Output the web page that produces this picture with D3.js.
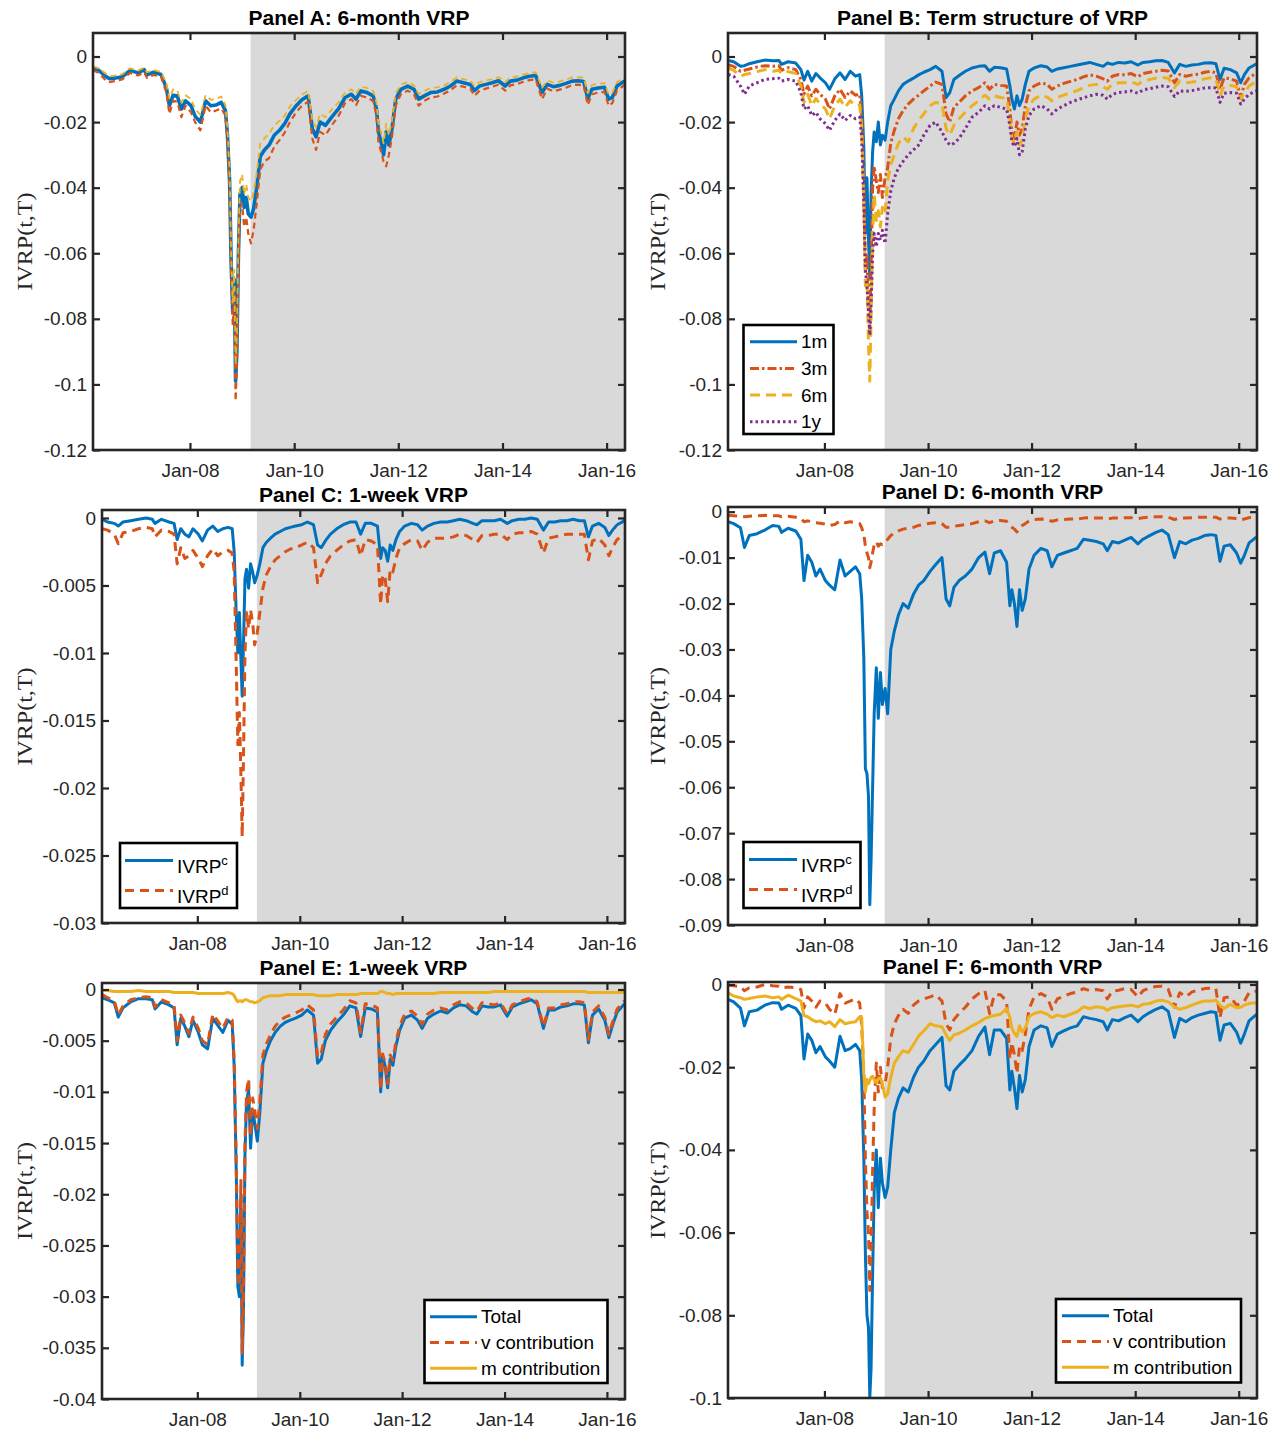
<!DOCTYPE html>
<html><head><meta charset="utf-8">
<script src="https://cdn.jsdelivr.net/npm/d3@7"></script>
<style>body{margin:0;background:#fff}</style>
</head><body>
<svg id="chart" width="1282" height="1431" xmlns="http://www.w3.org/2000/svg"></svg>
<script>
// ---------------- DATA ----------------
const dates = [
"2006-02-21","2006-04-01","2006-05-19","2006-06-16","2006-07-20","2006-09-13","2006-11-07",
"2007-01-01","2007-02-14","2007-03-05","2007-04-20","2007-06-13","2007-07-19","2007-08-10","2007-09-05","2007-10-04","2007-11-02","2007-12-01",
"2008-01-08","2008-02-06","2008-03-14","2008-04-20","2008-05-26","2008-07-01","2008-08-07","2008-09-06","2008-09-20","2008-10-05","2008-10-16","2008-10-27","2008-11-07","2008-11-16","2008-11-25","2008-12-06","2008-12-17",
"2009-01-01","2009-01-15","2009-01-30","2009-02-13","2009-03-04","2009-03-22","2009-04-13","2009-05-08","2009-06-06","2009-07-09","2009-08-14","2009-09-20","2009-10-26","2009-12-02",
"2010-01-15","2010-02-24","2010-04-09","2010-05-08","2010-06-03","2010-07-02","2010-08-08","2010-09-21","2010-11-07","2010-12-24",
"2011-02-06","2011-03-11","2011-04-13","2011-05-27","2011-07-09","2011-08-01","2011-08-15","2011-09-02","2011-09-20","2011-10-08","2011-10-27","2011-11-18","2011-12-14",
"2012-01-19","2012-03-07","2012-04-20","2012-05-23","2012-07-01","2012-08-15","2012-10-01","2012-11-18",
"2013-01-01","2013-02-14","2013-04-02","2013-05-20","2013-06-18","2013-07-24","2013-09-06","2013-10-20","2013-12-03",
"2014-01-20","2014-02-25","2014-04-13","2014-05-27","2014-07-09","2014-08-22","2014-10-05","2014-11-11","2014-12-24",
"2015-02-06","2015-03-22","2015-05-05","2015-06-18","2015-07-24","2015-08-22","2015-09-20","2015-11-03","2015-12-17",
"2016-01-15","2016-02-10","2016-03-14","2016-05-06"];

const xDomain = ["2006-02-20","2016-05-09"];
const shadeStart = "2009-03-01";
const xTickDates = ["2008-01-01","2010-01-01","2012-01-01","2014-01-01","2016-01-01"];
const xTickLabels = ["Jan-08","Jan-10","Jan-12","Jan-14","Jan-16"];

// Panel A: 6-month VRP (three estimates)
const aBlue = [-0.0035,-0.0042,-0.0060,-0.0068,-0.0066,-0.0062,-0.0042,
-0.0050,-0.0040,-0.0056,-0.0048,-0.0055,-0.0095,-0.0150,-0.0118,-0.0120,-0.0160,-0.0135,
-0.0150,-0.0182,-0.0200,-0.0135,-0.0150,-0.0148,-0.0140,-0.0165,-0.0240,-0.0380,-0.0630,-0.0780,-0.0680,-0.0990,-0.0900,-0.0600,-0.0420,
-0.0400,-0.0460,-0.0430,-0.0480,-0.0490,-0.0465,-0.0400,-0.0305,-0.0285,-0.0270,-0.0240,-0.0225,-0.0205,-0.0175,
-0.0150,-0.0132,-0.0120,-0.0220,-0.0245,-0.0200,-0.0210,-0.0185,-0.0160,-0.0125,
-0.0115,-0.0130,-0.0105,-0.0110,-0.0120,-0.0160,-0.0230,-0.0260,-0.0300,-0.0230,-0.0270,-0.0220,-0.0130,
-0.0100,-0.0090,-0.0100,-0.0130,-0.0120,-0.0110,-0.0108,-0.0100,
-0.0090,-0.0075,-0.0080,-0.0085,-0.0104,-0.0090,-0.0085,-0.0080,-0.0074,
-0.0090,-0.0075,-0.0072,-0.0065,-0.0060,-0.0058,-0.0110,-0.0085,-0.0092,
-0.0088,-0.0082,-0.0075,-0.0074,-0.0076,-0.0128,-0.0100,-0.0096,-0.0094,
-0.0130,-0.0125,-0.0090,-0.0075];
const aOrange = [-0.0042,-0.0050,-0.0072,-0.0078,-0.0075,-0.0070,-0.0050,
-0.0058,-0.0048,-0.0065,-0.0056,-0.0062,-0.0110,-0.0175,-0.0135,-0.0138,-0.0185,-0.0150,
-0.0170,-0.0200,-0.0225,-0.0150,-0.0170,-0.0165,-0.0158,-0.0180,-0.0260,-0.0410,-0.0660,-0.0820,-0.0720,-0.1050,-0.0950,-0.0640,-0.0460,
-0.0450,-0.0520,-0.0490,-0.0540,-0.0570,-0.0530,-0.0450,-0.0345,-0.0320,-0.0310,-0.0275,-0.0255,-0.0232,-0.0200,
-0.0170,-0.0150,-0.0138,-0.0250,-0.0285,-0.0230,-0.0240,-0.0210,-0.0182,-0.0142,
-0.0130,-0.0148,-0.0120,-0.0125,-0.0136,-0.0180,-0.0260,-0.0290,-0.0320,-0.0335,-0.0300,-0.0245,-0.0150,
-0.0115,-0.0104,-0.0115,-0.0150,-0.0135,-0.0125,-0.0122,-0.0113,
-0.0103,-0.0088,-0.0092,-0.0098,-0.0120,-0.0104,-0.0098,-0.0092,-0.0086,
-0.0104,-0.0088,-0.0084,-0.0077,-0.0072,-0.0070,-0.0130,-0.0098,-0.0106,
-0.0101,-0.0095,-0.0087,-0.0086,-0.0088,-0.0148,-0.0115,-0.0110,-0.0108,
-0.0150,-0.0142,-0.0104,-0.0087];
const aYellow = [-0.0030,-0.0036,-0.0052,-0.0060,-0.0058,-0.0054,-0.0036,
-0.0043,-0.0034,-0.0048,-0.0041,-0.0047,-0.0080,-0.0128,-0.0100,-0.0104,-0.0140,-0.0118,
-0.0130,-0.0160,-0.0178,-0.0118,-0.0132,-0.0130,-0.0122,-0.0148,-0.0220,-0.0350,-0.0600,-0.0750,-0.0650,-0.0940,-0.0860,-0.0560,-0.0380,
-0.0360,-0.0420,-0.0390,-0.0430,-0.0440,-0.0415,-0.0355,-0.0265,-0.0250,-0.0235,-0.0210,-0.0196,-0.0180,-0.0152,
-0.0132,-0.0116,-0.0105,-0.0195,-0.0215,-0.0175,-0.0185,-0.0162,-0.0140,-0.0110,
-0.0100,-0.0114,-0.0092,-0.0096,-0.0105,-0.0140,-0.0205,-0.0230,-0.0265,-0.0205,-0.0240,-0.0195,-0.0112,
-0.0086,-0.0078,-0.0088,-0.0114,-0.0105,-0.0096,-0.0094,-0.0088,
-0.0078,-0.0064,-0.0069,-0.0073,-0.0090,-0.0078,-0.0073,-0.0069,-0.0063,
-0.0078,-0.0064,-0.0061,-0.0055,-0.0050,-0.0048,-0.0095,-0.0073,-0.0080,
-0.0076,-0.0070,-0.0064,-0.0063,-0.0065,-0.0112,-0.0087,-0.0083,-0.0081,
-0.0115,-0.0110,-0.0078,-0.0064];

// Panel B: term structure
const b1m = [-0.0012,-0.0016,-0.0030,-0.0028,-0.0022,-0.0016,-0.0011,
-0.0013,-0.0012,-0.0024,-0.0016,-0.0020,-0.0040,-0.0072,-0.0045,-0.0075,-0.0052,-0.0065,
-0.0080,-0.0100,-0.0068,-0.0050,-0.0070,-0.0045,-0.0060,-0.0055,-0.0120,-0.0280,-0.0540,-0.0370,-0.0560,-0.0676,-0.0420,-0.0290,-0.0230,
-0.0260,-0.0200,-0.0270,-0.0240,-0.0255,-0.0200,-0.0150,-0.0130,-0.0105,-0.0085,-0.0075,-0.0066,-0.0056,-0.0048,
-0.0040,-0.0030,-0.0045,-0.0125,-0.0110,-0.0070,-0.0058,-0.0045,-0.0035,-0.0030,
-0.0028,-0.0045,-0.0033,-0.0034,-0.0038,-0.0090,-0.0130,-0.0160,-0.0120,-0.0150,-0.0130,-0.0085,-0.0045,
-0.0035,-0.0028,-0.0032,-0.0045,-0.0038,-0.0034,-0.0030,-0.0026,
-0.0022,-0.0018,-0.0024,-0.0030,-0.0020,-0.0024,-0.0018,-0.0020,-0.0016,
-0.0026,-0.0018,-0.0016,-0.0013,-0.0012,-0.0018,-0.0050,-0.0024,-0.0030,
-0.0026,-0.0024,-0.0020,-0.0019,-0.0022,-0.0070,-0.0036,-0.0040,-0.0050,
-0.0080,-0.0055,-0.0035,-0.0022];
const b3m = [-0.0025,-0.0030,-0.0045,-0.0042,-0.0038,-0.0032,-0.0028,
-0.0030,-0.0028,-0.0042,-0.0034,-0.0040,-0.0070,-0.0115,-0.0090,-0.0120,-0.0100,-0.0115,
-0.0130,-0.0160,-0.0120,-0.0100,-0.0125,-0.0105,-0.0118,-0.0115,-0.0180,-0.0400,-0.0650,-0.0600,-0.0780,-0.0840,-0.0650,-0.0400,-0.0335,
-0.0380,-0.0415,-0.0360,-0.0430,-0.0370,-0.0340,-0.0264,-0.0225,-0.0190,-0.0165,-0.0145,-0.0130,-0.0118,-0.0105,
-0.0090,-0.0078,-0.0085,-0.0175,-0.0200,-0.0155,-0.0140,-0.0120,-0.0105,-0.0095,
-0.0080,-0.0100,-0.0085,-0.0088,-0.0090,-0.0160,-0.0230,-0.0250,-0.0200,-0.0240,-0.0220,-0.0150,-0.0105,
-0.0090,-0.0080,-0.0085,-0.0100,-0.0090,-0.0082,-0.0076,-0.0070,
-0.0062,-0.0056,-0.0060,-0.0068,-0.0075,-0.0060,-0.0055,-0.0056,-0.0052,
-0.0062,-0.0052,-0.0048,-0.0045,-0.0042,-0.0044,-0.0080,-0.0055,-0.0060,
-0.0056,-0.0054,-0.0048,-0.0045,-0.0050,-0.0100,-0.0065,-0.0068,-0.0075,
-0.0125,-0.0085,-0.0065,-0.0050];
const b6m = [-0.0035,-0.0042,-0.0060,-0.0055,-0.0052,-0.0046,-0.0040,
-0.0045,-0.0042,-0.0052,-0.0046,-0.0052,-0.0090,-0.0140,-0.0115,-0.0150,-0.0128,-0.0145,
-0.0160,-0.0190,-0.0150,-0.0130,-0.0155,-0.0135,-0.0150,-0.0148,-0.0220,-0.0450,-0.0700,-0.0680,-0.0880,-0.0990,-0.0800,-0.0550,-0.0420,
-0.0500,-0.0470,-0.0520,-0.0460,-0.0480,-0.0380,-0.0330,-0.0300,-0.0265,-0.0245,-0.0260,-0.0220,-0.0195,-0.0175,
-0.0150,-0.0140,-0.0145,-0.0220,-0.0240,-0.0210,-0.0190,-0.0170,-0.0150,-0.0135,
-0.0118,-0.0130,-0.0120,-0.0125,-0.0128,-0.0190,-0.0250,-0.0265,-0.0230,-0.0270,-0.0255,-0.0190,-0.0150,
-0.0130,-0.0118,-0.0124,-0.0135,-0.0125,-0.0118,-0.0110,-0.0104,
-0.0095,-0.0088,-0.0085,-0.0092,-0.0100,-0.0085,-0.0080,-0.0080,-0.0077,
-0.0085,-0.0075,-0.0070,-0.0066,-0.0064,-0.0066,-0.0095,-0.0075,-0.0080,
-0.0078,-0.0075,-0.0068,-0.0065,-0.0068,-0.0120,-0.0090,-0.0088,-0.0092,
-0.0130,-0.0110,-0.0090,-0.0075];
const b1y = [-0.0055,-0.0060,-0.0090,-0.0115,-0.0090,-0.0080,-0.0070,
-0.0068,-0.0066,-0.0075,-0.0070,-0.0075,-0.0110,-0.0160,-0.0150,-0.0180,-0.0170,-0.0190,
-0.0205,-0.0225,-0.0195,-0.0175,-0.0195,-0.0180,-0.0190,-0.0185,-0.0250,-0.0450,-0.0650,-0.0700,-0.0780,-0.0850,-0.0760,-0.0600,-0.0540,
-0.0580,-0.0540,-0.0560,-0.0530,-0.0570,-0.0480,-0.0410,-0.0370,-0.0340,-0.0320,-0.0300,-0.0285,-0.0270,-0.0240,
-0.0210,-0.0200,-0.0230,-0.0255,-0.0270,-0.0265,-0.0250,-0.0220,-0.0185,-0.0170,
-0.0150,-0.0160,-0.0150,-0.0155,-0.0160,-0.0210,-0.0260,-0.0275,-0.0250,-0.0300,-0.0290,-0.0220,-0.0180,
-0.0160,-0.0150,-0.0160,-0.0175,-0.0160,-0.0150,-0.0140,-0.0132,
-0.0126,-0.0120,-0.0115,-0.0118,-0.0130,-0.0115,-0.0110,-0.0108,-0.0105,
-0.0112,-0.0102,-0.0098,-0.0094,-0.0090,-0.0092,-0.0122,-0.0105,-0.0106,
-0.0104,-0.0100,-0.0096,-0.0095,-0.0096,-0.0140,-0.0112,-0.0110,-0.0112,
-0.0145,-0.0130,-0.0115,-0.0105];

// Panel C: 1-week VRP, continuous / discontinuous
const cC = [-0.0001,-0.0003,-0.0004,-0.0006,-0.0003,-0.0002,-0.0001,
0.0000,-0.0001,-0.0004,-0.0001,-0.0003,-0.0004,-0.0016,-0.0008,-0.0012,-0.0014,-0.0008,
-0.0012,-0.0017,-0.0009,-0.0006,-0.0010,-0.0008,-0.0007,-0.0008,-0.0025,-0.0072,-0.0100,-0.0070,-0.0105,-0.0132,-0.0095,-0.0045,-0.0038,
-0.0052,-0.0034,-0.0040,-0.0048,-0.0042,-0.0034,-0.0022,-0.0018,-0.0015,-0.0012,-0.0010,-0.0008,-0.0007,-0.0006,
-0.0005,-0.0003,-0.0005,-0.0020,-0.0022,-0.0017,-0.0012,-0.0008,-0.0005,-0.0003,
-0.0003,-0.0012,-0.0004,-0.0004,-0.0006,-0.0030,-0.0022,-0.0024,-0.0032,-0.0020,-0.0024,-0.0016,-0.0010,
-0.0006,-0.0004,-0.0005,-0.0009,-0.0006,-0.0004,-0.0003,-0.0003,
-0.0002,-0.0001,-0.0002,-0.0004,-0.0005,-0.0002,-0.0002,-0.0002,-0.0001,
-0.0004,-0.0002,-0.0001,-0.0001,0.0000,-0.0001,-0.0009,-0.0003,-0.0003,
-0.0002,-0.0002,-0.0001,-0.0002,-0.0002,-0.0014,-0.0006,-0.0004,-0.0007,
-0.0013,-0.0009,-0.0005,-0.0002];
const cD = [-0.0008,-0.0009,-0.0012,-0.0019,-0.0011,-0.0010,-0.0008,
-0.0007,-0.0008,-0.0014,-0.0009,-0.0010,-0.0012,-0.0034,-0.0022,-0.0030,-0.0028,-0.0024,
-0.0030,-0.0036,-0.0028,-0.0023,-0.0028,-0.0025,-0.0024,-0.0026,-0.0040,-0.0110,-0.0168,-0.0144,-0.0190,-0.0236,-0.0180,-0.0100,-0.0070,
-0.0082,-0.0068,-0.0078,-0.0094,-0.0085,-0.0070,-0.0052,-0.0042,-0.0036,-0.0031,-0.0028,-0.0025,-0.0023,-0.0022,
-0.0020,-0.0018,-0.0022,-0.0048,-0.0042,-0.0034,-0.0028,-0.0024,-0.0020,-0.0017,
-0.0016,-0.0028,-0.0016,-0.0017,-0.0020,-0.0064,-0.0042,-0.0045,-0.0062,-0.0038,-0.0040,-0.0030,-0.0022,
-0.0019,-0.0016,-0.0017,-0.0024,-0.0018,-0.0015,-0.0015,-0.0015,
-0.0014,-0.0012,-0.0013,-0.0016,-0.0018,-0.0013,-0.0013,-0.0012,-0.0012,
-0.0016,-0.0012,-0.0011,-0.0011,-0.0010,-0.0012,-0.0026,-0.0015,-0.0014,
-0.0013,-0.0012,-0.0012,-0.0012,-0.0012,-0.0031,-0.0017,-0.0015,-0.0020,
-0.0028,-0.0022,-0.0016,-0.0012];

// Panel D: 6-month VRP, continuous / discontinuous
const dC = [-0.0022,-0.0026,-0.0035,-0.0078,-0.0052,-0.0048,-0.0040,
-0.0030,-0.0032,-0.0045,-0.0036,-0.0042,-0.0060,-0.0150,-0.0095,-0.0110,-0.0140,-0.0125,
-0.0150,-0.0160,-0.0170,-0.0105,-0.0140,-0.0130,-0.0120,-0.0135,-0.0190,-0.0320,-0.0560,-0.0570,-0.0620,-0.0856,-0.0760,-0.0600,-0.0440,
-0.0340,-0.0450,-0.0350,-0.0420,-0.0385,-0.0440,-0.0300,-0.0260,-0.0225,-0.0200,-0.0210,-0.0180,-0.0160,-0.0150,
-0.0130,-0.0115,-0.0100,-0.0190,-0.0205,-0.0165,-0.0150,-0.0140,-0.0125,-0.0100,
-0.0088,-0.0135,-0.0090,-0.0085,-0.0110,-0.0205,-0.0170,-0.0200,-0.0250,-0.0170,-0.0215,-0.0190,-0.0125,
-0.0095,-0.0080,-0.0085,-0.0120,-0.0095,-0.0090,-0.0085,-0.0080,
-0.0060,-0.0062,-0.0065,-0.0070,-0.0085,-0.0065,-0.0068,-0.0062,-0.0056,
-0.0070,-0.0060,-0.0052,-0.0045,-0.0040,-0.0050,-0.0100,-0.0065,-0.0070,
-0.0062,-0.0058,-0.0052,-0.0050,-0.0052,-0.0108,-0.0075,-0.0072,-0.0090,
-0.0112,-0.0095,-0.0068,-0.0055];
const dD = [-0.0008,-0.0009,-0.0010,-0.0011,-0.0010,-0.0009,-0.0008,
-0.0009,-0.0009,-0.0011,-0.0010,-0.0012,-0.0015,-0.0022,-0.0020,-0.0022,-0.0024,-0.0025,
-0.0027,-0.0030,-0.0028,-0.0020,-0.0024,-0.0022,-0.0024,-0.0026,-0.0035,-0.0050,-0.0075,-0.0090,-0.0100,-0.0122,-0.0110,-0.0090,-0.0072,
-0.0065,-0.0075,-0.0070,-0.0072,-0.0068,-0.0060,-0.0052,-0.0046,-0.0042,-0.0038,-0.0036,-0.0034,-0.0030,-0.0028,
-0.0025,-0.0024,-0.0026,-0.0034,-0.0034,-0.0032,-0.0030,-0.0028,-0.0026,-0.0022,
-0.0020,-0.0024,-0.0020,-0.0019,-0.0021,-0.0030,-0.0034,-0.0038,-0.0044,-0.0035,-0.0030,-0.0026,-0.0020,
-0.0017,-0.0016,-0.0017,-0.0021,-0.0018,-0.0017,-0.0016,-0.0016,
-0.0014,-0.0013,-0.0014,-0.0014,-0.0016,-0.0014,-0.0014,-0.0013,-0.0013,
-0.0015,-0.0013,-0.0012,-0.0011,-0.0011,-0.0012,-0.0017,-0.0014,-0.0014,
-0.0013,-0.0012,-0.0012,-0.0012,-0.0012,-0.0016,-0.0014,-0.0014,-0.0015,
-0.0018,-0.0016,-0.0013,-0.0010];

// Panel E: 1-week VRP decomposition
const eTotal = [-0.0008,-0.0010,-0.0013,-0.0027,-0.0018,-0.0012,-0.0009,
-0.0009,-0.0010,-0.0019,-0.0012,-0.0015,-0.0018,-0.0054,-0.0028,-0.0036,-0.0046,-0.0030,
-0.0042,-0.0054,-0.0058,-0.0028,-0.0035,-0.0042,-0.0030,-0.0034,-0.0075,-0.0180,-0.0290,-0.0300,-0.0200,-0.0367,-0.0315,-0.0160,-0.0110,
-0.0098,-0.0155,-0.0118,-0.0130,-0.0148,-0.0120,-0.0072,-0.0060,-0.0050,-0.0042,-0.0036,-0.0032,-0.0030,-0.0028,
-0.0025,-0.0020,-0.0025,-0.0072,-0.0068,-0.0050,-0.0040,-0.0032,-0.0025,-0.0016,
-0.0018,-0.0046,-0.0018,-0.0019,-0.0022,-0.0100,-0.0065,-0.0075,-0.0096,-0.0068,-0.0074,-0.0055,-0.0040,
-0.0028,-0.0025,-0.0030,-0.0038,-0.0028,-0.0024,-0.0021,-0.0023,
-0.0018,-0.0015,-0.0016,-0.0022,-0.0024,-0.0016,-0.0017,-0.0017,-0.0015,
-0.0026,-0.0017,-0.0014,-0.0012,-0.0010,-0.0014,-0.0038,-0.0020,-0.0020,
-0.0017,-0.0016,-0.0014,-0.0014,-0.0015,-0.0052,-0.0025,-0.0019,-0.0030,
-0.0047,-0.0035,-0.0022,-0.0014];
const eV = [-0.0005,-0.0008,-0.0011,-0.0025,-0.0016,-0.0010,-0.0008,
-0.0007,-0.0008,-0.0017,-0.0010,-0.0013,-0.0015,-0.0050,-0.0025,-0.0033,-0.0043,-0.0027,
-0.0038,-0.0050,-0.0054,-0.0024,-0.0031,-0.0038,-0.0027,-0.0030,-0.0069,-0.0170,-0.0278,-0.0290,-0.0185,-0.0355,-0.0304,-0.0150,-0.0100,
-0.0087,-0.0143,-0.0106,-0.0117,-0.0136,-0.0109,-0.0064,-0.0053,-0.0044,-0.0036,-0.0030,-0.0027,-0.0025,-0.0023,
-0.0020,-0.0015,-0.0020,-0.0066,-0.0062,-0.0044,-0.0034,-0.0027,-0.0020,-0.0011,
-0.0013,-0.0042,-0.0014,-0.0015,-0.0018,-0.0098,-0.0063,-0.0072,-0.0092,-0.0064,-0.0069,-0.0051,-0.0036,
-0.0024,-0.0021,-0.0026,-0.0034,-0.0024,-0.0020,-0.0018,-0.0020,
-0.0015,-0.0012,-0.0013,-0.0019,-0.0021,-0.0013,-0.0014,-0.0015,-0.0013,
-0.0024,-0.0015,-0.0012,-0.0010,-0.0008,-0.0012,-0.0036,-0.0018,-0.0018,
-0.0015,-0.0014,-0.0012,-0.0012,-0.0013,-0.0049,-0.0022,-0.0016,-0.0027,
-0.0044,-0.0032,-0.0019,-0.0011];
const eM = [-0.0001,-0.0001,-0.0002,-0.0002,-0.0002,-0.0002,-0.0001,
-0.0002,-0.0002,-0.0002,-0.0002,-0.0002,-0.0003,-0.0003,-0.0003,-0.0003,-0.0003,-0.0003,
-0.0004,-0.0004,-0.0004,-0.0004,-0.0004,-0.0004,-0.0003,-0.0004,-0.0006,-0.0010,-0.0012,-0.0011,-0.0011,-0.0012,-0.0011,-0.0010,-0.0010,
-0.0011,-0.0012,-0.0012,-0.0013,-0.0012,-0.0011,-0.0008,-0.0007,-0.0006,-0.0006,-0.0006,-0.0005,-0.0005,-0.0005,
-0.0005,-0.0005,-0.0005,-0.0006,-0.0006,-0.0006,-0.0006,-0.0005,-0.0005,-0.0005,
-0.0005,-0.0004,-0.0004,-0.0004,-0.0004,-0.0002,-0.0002,-0.0003,-0.0004,-0.0004,-0.0005,-0.0004,-0.0004,
-0.0004,-0.0004,-0.0004,-0.0004,-0.0004,-0.0004,-0.0003,-0.0003,
-0.0003,-0.0003,-0.0003,-0.0003,-0.0003,-0.0003,-0.0003,-0.0002,-0.0002,
-0.0002,-0.0002,-0.0002,-0.0002,-0.0002,-0.0002,-0.0002,-0.0002,-0.0002,
-0.0002,-0.0002,-0.0002,-0.0002,-0.0002,-0.0003,-0.0003,-0.0003,-0.0003,
-0.0003,-0.0003,-0.0003,-0.0003];

// Panel F: 6-month VRP decomposition
const fTotal = [-0.0036,-0.0042,-0.0057,-0.0100,-0.0066,-0.0062,-0.0050,
-0.0044,-0.0045,-0.0060,-0.0050,-0.0058,-0.0075,-0.0180,-0.0120,-0.0135,-0.0165,-0.0150,
-0.0175,-0.0185,-0.0200,-0.0125,-0.0160,-0.0155,-0.0145,-0.0160,-0.0230,-0.0420,-0.0650,-0.0800,-0.0830,-0.1000,-0.0930,-0.0700,-0.0500,
-0.0400,-0.0540,-0.0420,-0.0480,-0.0515,-0.0490,-0.0400,-0.0310,-0.0275,-0.0250,-0.0260,-0.0225,-0.0200,-0.0185,
-0.0160,-0.0145,-0.0128,-0.0245,-0.0255,-0.0210,-0.0195,-0.0180,-0.0160,-0.0125,
-0.0103,-0.0170,-0.0110,-0.0110,-0.0130,-0.0255,-0.0210,-0.0250,-0.0300,-0.0220,-0.0260,-0.0230,-0.0150,
-0.0110,-0.0100,-0.0105,-0.0150,-0.0120,-0.0112,-0.0105,-0.0100,
-0.0078,-0.0082,-0.0085,-0.0090,-0.0110,-0.0085,-0.0088,-0.0080,-0.0074,
-0.0090,-0.0078,-0.0068,-0.0060,-0.0054,-0.0065,-0.0128,-0.0082,-0.0090,
-0.0080,-0.0074,-0.0070,-0.0066,-0.0068,-0.0135,-0.0098,-0.0094,-0.0115,
-0.0142,-0.0120,-0.0088,-0.0072];
const fV = [-0.0002,-0.0003,-0.0005,-0.0015,-0.0008,-0.0006,0.0000,
-0.0003,-0.0004,-0.0008,-0.0006,-0.0008,-0.0012,-0.0057,-0.0030,-0.0040,-0.0055,-0.0040,
-0.0045,-0.0060,-0.0072,-0.0022,-0.0045,-0.0040,-0.0035,-0.0045,-0.0100,-0.0220,-0.0420,-0.0550,-0.0600,-0.0740,-0.0650,-0.0450,-0.0300,
-0.0190,-0.0260,-0.0200,-0.0250,-0.0240,-0.0200,-0.0130,-0.0095,-0.0075,-0.0060,-0.0070,-0.0050,-0.0040,-0.0035,
-0.0030,-0.0025,-0.0040,-0.0095,-0.0110,-0.0085,-0.0070,-0.0055,-0.0035,-0.0022,
-0.0015,-0.0070,-0.0025,-0.0025,-0.0040,-0.0180,-0.0140,-0.0170,-0.0215,-0.0150,-0.0160,-0.0120,-0.0060,
-0.0030,-0.0022,-0.0030,-0.0060,-0.0035,-0.0028,-0.0022,-0.0018,
-0.0010,-0.0015,-0.0012,-0.0015,-0.0035,-0.0016,-0.0014,-0.0010,-0.0012,
-0.0030,-0.0015,-0.0008,-0.0005,-0.0004,-0.0012,-0.0055,-0.0020,-0.0030,
-0.0018,-0.0014,-0.0010,-0.0009,-0.0010,-0.0080,-0.0032,-0.0030,-0.0050,
-0.0045,-0.0040,-0.0020,-0.0016];
const fM = [-0.0020,-0.0028,-0.0032,-0.0036,-0.0034,-0.0030,-0.0028,
-0.0032,-0.0030,-0.0036,-0.0026,-0.0034,-0.0040,-0.0075,-0.0078,-0.0085,-0.0090,-0.0088,
-0.0095,-0.0090,-0.0102,-0.0085,-0.0095,-0.0092,-0.0090,-0.0078,-0.0080,-0.0215,-0.0260,-0.0230,-0.0240,-0.0232,-0.0225,-0.0222,-0.0230,
-0.0238,-0.0228,-0.0225,-0.0240,-0.0272,-0.0265,-0.0225,-0.0190,-0.0175,-0.0160,-0.0165,-0.0145,-0.0125,-0.0112,
-0.0095,-0.0100,-0.0102,-0.0122,-0.0135,-0.0122,-0.0118,-0.0110,-0.0100,-0.0092,
-0.0082,-0.0078,-0.0075,-0.0072,-0.0058,-0.0080,-0.0105,-0.0118,-0.0126,-0.0100,-0.0115,-0.0105,-0.0078,
-0.0070,-0.0066,-0.0072,-0.0080,-0.0074,-0.0078,-0.0072,-0.0066,
-0.0054,-0.0058,-0.0054,-0.0056,-0.0062,-0.0056,-0.0054,-0.0052,-0.0050,
-0.0054,-0.0048,-0.0046,-0.0040,-0.0038,-0.0042,-0.0054,-0.0060,-0.0056,
-0.0050,-0.0044,-0.0040,-0.0040,-0.0038,-0.0050,-0.0058,-0.0048,-0.0056,
-0.0055,-0.0050,-0.0046,-0.0044];

// Tick values and labels
const yTicksAB = [0,-0.02,-0.04,-0.06,-0.08,-0.1,-0.12];
const yLabelsAB = ["0","-0.02","-0.04","-0.06","-0.08","-0.1","-0.12"];
const yTicksC = [0,-0.005,-0.01,-0.015,-0.02,-0.025,-0.03];
const yLabelsC = ["0","-0.005","-0.01","-0.015","-0.02","-0.025","-0.03"];
const yTicksD = [0,-0.01,-0.02,-0.03,-0.04,-0.05,-0.06,-0.07,-0.08,-0.09];
const yLabelsD = ["0","-0.01","-0.02","-0.03","-0.04","-0.05","-0.06","-0.07","-0.08","-0.09"];
const yTicksE = [0,-0.005,-0.01,-0.015,-0.02,-0.025,-0.03,-0.035,-0.04];
const yLabelsE = ["0","-0.005","-0.01","-0.015","-0.02","-0.025","-0.03","-0.035","-0.04"];
const yTicksF = [0,-0.02,-0.04,-0.06,-0.08,-0.1];
const yLabelsF = ["0","-0.02","-0.04","-0.06","-0.08","-0.1"];

const legendB = ["1m","3m","6m","1y"];
const legendCD = [["IVRP","c"],["IVRP","d"]];
const legendEF = ["Total","v contribution","m contribution"];
const titles = ["Panel A: 6-month VRP","Panel B: Term structure of VRP","Panel C: 1-week VRP","Panel D: 6-month VRP","Panel E: 1-week VRP","Panel F: 6-month VRP"];
const yAxisLabel = "IVRP(t,T)";

// ---------------- DRAWING ----------------
const BLUE="#0072BD", ORANGE="#D95319", YELLOW="#EDB120", PURPLE="#7E2F8E", AX="#262626";
const SANS = "'Liberation Sans', Arial, Helvetica, sans-serif";
const parse = d3.utcParse("%Y-%m-%d");
const X = dates.map(parse);
const svg = d3.select("#chart");

const panels = [
 {id:"A", title:titles[0], x0:93, x1:625, y0:33, y1:450, yd:[-0.12,0.00717], yt:yTicksAB, yl:yLabelsAB, lx:24,
  series:[{v:aBlue,c:BLUE,w:3.6},{v:aOrange,c:ORANGE,w:2.2,dash:"6,4"},{v:aYellow,c:YELLOW,w:1.8,dash:"6,4"}]},
 {id:"B", title:titles[1], x0:728, x1:1257, y0:33, y1:450, yd:[-0.12,0.00717], yt:yTicksAB, yl:yLabelsAB, lx:657,
  series:[{v:b1m,c:BLUE,w:3},{v:b3m,c:ORANGE,w:3,dash:"9,3,2.5,3"},{v:b6m,c:YELLOW,w:3,dash:"10,6"},{v:b1y,c:PURPLE,w:3,dash:"2.5,3"}],
  legend:{x:743.5,y:325,w:90,h:109,first:16.7,step:26.7,l0:750,l1:797,tx:801,labels:legendB}},
 {id:"C", title:titles[2], x0:102, x1:625, y0:510, y1:923, yd:[-0.03,0.00059], yt:yTicksC, yl:yLabelsC, lx:24,
  series:[{v:cC,c:BLUE,w:3},{v:cD,c:ORANGE,w:3,dash:"9,6"}],
  legend:{x:120,y:843,w:117,h:65,first:17.5,step:30,l0:125,l1:173,tx:177,labels:legendCD,sup:true}},
 {id:"D", title:titles[3], x0:728, x1:1257, y0:507, y1:925, yd:[-0.09,0.00102], yt:yTicksD, yl:yLabelsD, lx:657,
  series:[{v:dC,c:BLUE,w:3},{v:dD,c:ORANGE,w:3,dash:"9,6"}],
  legend:{x:743.5,y:842,w:117,h:66,first:17.5,step:30,l0:749,l1:797,tx:801,labels:legendCD,sup:true}},
 {id:"E", title:titles[4], x0:102, x1:625, y0:983, y1:1399, yd:[-0.04,0.000635], yt:yTicksE, yl:yLabelsE, lx:24,
  series:[{v:eTotal,c:BLUE,w:3},{v:eV,c:ORANGE,w:3,dash:"9,6"},{v:eM,c:YELLOW,w:3}],
  legend:{x:424.5,y:1300,w:183,h:83,first:16.7,step:25.8,l0:430,l1:477,tx:481,labels:legendEF}},
 {id:"F", title:titles[5], x0:728, x1:1257, y0:982, y1:1398, yd:[-0.1,0.0006], yt:yTicksF, yl:yLabelsF, lx:657,
  series:[{v:fTotal,c:BLUE,w:3},{v:fV,c:ORANGE,w:3,dash:"9,6"},{v:fM,c:YELLOW,w:3}],
  legend:{x:1056,y:1299,w:185,h:83.5,first:16.7,step:25.8,l0:1062,l1:1109,tx:1113,labels:legendEF}}
];

const defs = svg.append("defs");

panels.forEach(p => {
  const x = d3.scaleUtc().domain(xDomain.map(parse)).range([p.x0, p.x1]);
  const y = d3.scaleLinear().domain(p.yd).range([p.y1, p.y0]);
  const g = svg.append("g").attr("id","panel"+p.id);

  defs.append("clipPath").attr("id","clip"+p.id)
    .append("rect").attr("x",p.x0).attr("y",p.y0).attr("width",p.x1-p.x0).attr("height",p.y1-p.y0);

  g.append("rect").attr("x",p.x0).attr("y",p.y0).attr("width",p.x1-p.x0).attr("height",p.y1-p.y0).attr("fill","#fff");
  const xs = x(parse(shadeStart));
  g.append("rect").attr("x",xs).attr("y",p.y0).attr("width",p.x1-xs).attr("height",p.y1-p.y0).attr("fill","#d9d9d9");

  const line = d3.line().x((d,i)=>x(X[i])).y(d=>y(d));
  const lg = g.append("g").attr("clip-path","url(#clip"+p.id+")");
  p.series.forEach(s => {
    lg.append("path").datum(s.v).attr("d",line)
      .attr("fill","none").attr("stroke",s.c).attr("stroke-width",s.w)
      .attr("stroke-linejoin","round")
      .attr("stroke-dasharray", s.dash || null);
  });

  const xt = xTickDates.map(parse);
  const axB = d3.axisBottom(x).tickValues(xt).tickFormat((d,i)=>xTickLabels[i]).tickSizeInner(-7).tickSizeOuter(0).tickPadding(13.5);
  const axT = d3.axisTop(x).tickValues(xt).tickFormat("").tickSizeInner(-7).tickSizeOuter(0);
  const axL = d3.axisLeft(y).tickValues(p.yt).tickFormat((d,i)=>p.yl[i]).tickSizeInner(-7).tickSizeOuter(0).tickPadding(6);
  const axR = d3.axisRight(y).tickValues(p.yt).tickFormat("").tickSizeInner(-7).tickSizeOuter(0);
  const style = sel => {
    sel.select(".domain").remove();
    sel.selectAll(".tick line").attr("stroke",AX).attr("stroke-width",2.2);
    sel.selectAll(".tick text").attr("fill",AX).style("font-family",SANS).style("font-size","19px");
  };
  g.append("g").attr("transform",`translate(0,${p.y1})`).call(axB).call(style);
  g.append("g").attr("transform",`translate(0,${p.y0})`).call(axT).call(style);
  g.append("g").attr("transform",`translate(${p.x0},0)`).call(axL).call(style);
  g.append("g").attr("transform",`translate(${p.x1},0)`).call(axR).call(style);

  g.append("rect").attr("x",p.x0).attr("y",p.y0).attr("width",p.x1-p.x0).attr("height",p.y1-p.y0)
    .attr("fill","none").attr("stroke",AX).attr("stroke-width",2.6);

  g.append("text").attr("x",(p.x0+p.x1)/2).attr("y",p.y0-8).attr("text-anchor","middle")
    .style("font-family",SANS).style("font-size","21px").style("font-weight","bold").attr("fill","#000")
    .text(p.title);

  g.append("text").attr("transform",`translate(${p.lx},${(p.y0+p.y1)/2}) rotate(-90)`)
    .attr("text-anchor","middle").attr("dy","0.35em")
    .style("font-family","'Liberation Serif','Times New Roman',serif").style("font-size","22px")
    .attr("textLength",98).attr("lengthAdjust","spacingAndGlyphs")
    .attr("fill",AX).text(yAxisLabel);

  if (p.legend) {
    const L = p.legend;
    g.append("rect").attr("x",L.x).attr("y",L.y).attr("width",L.w).attr("height",L.h)
      .attr("fill","#fff").attr("stroke","#000").attr("stroke-width",2.6);
    L.labels.forEach((lab,i) => {
      const s = p.series[i];
      const cy = L.y + L.first + i*L.step;
      g.append("line").attr("x1",L.l0).attr("x2",L.l1).attr("y1",cy).attr("y2",cy)
        .attr("stroke",s.c).attr("stroke-width",s.w).attr("stroke-dasharray",s.dash||null);
      const t = g.append("text").attr("x",L.tx).attr("fill","#000")
        .style("font-family",SANS).style("font-size","19px");
      if (L.sup) {
        t.attr("y",cy+12);
        t.append("tspan").text(lab[0]);
        t.append("tspan").attr("dy",-8).style("font-size","13px").text(lab[1]);
      } else {
        t.attr("y",cy).attr("dy","0.35em").text(lab);
      }
    });
  }
});
</script>
</body></html>
